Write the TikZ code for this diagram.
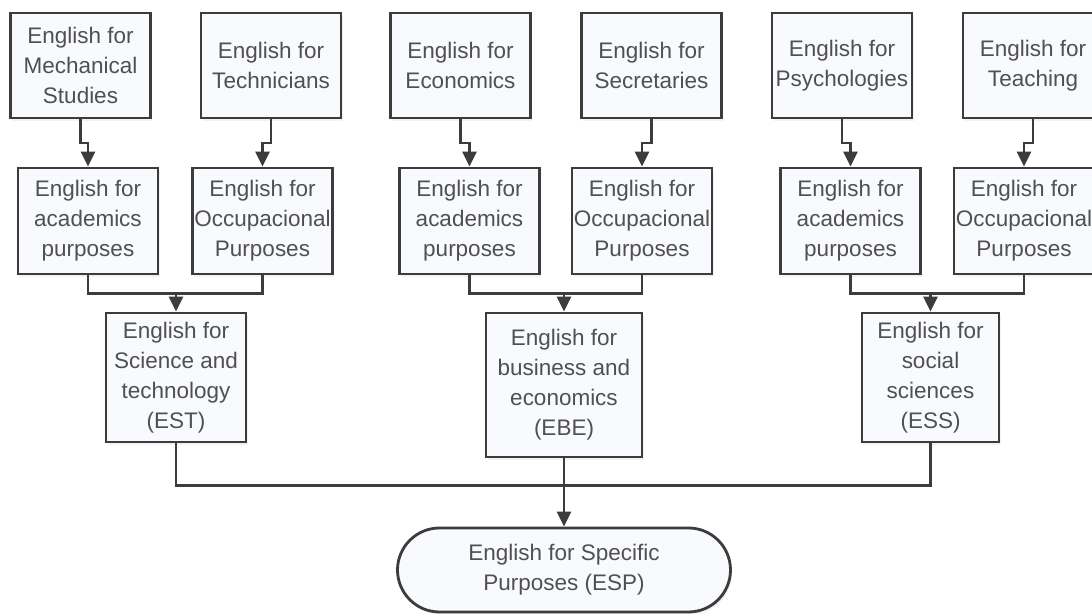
\documentclass[tikz,border=0pt]{standalone}
\usepackage{fontspec}
\setmainfont{Liberation Sans}
\usepackage{tikz}
\usetikzlibrary{calc}
\usetikzlibrary{arrows.meta}
\usetikzlibrary{shadows}

\definecolor{boxline}{HTML}{3C3C3C}
\definecolor{boxfill}{HTML}{F8FAFD}
\definecolor{boxtext}{HTML}{505050}

\tikzset{
    field/.style={draw=boxline, line width=1.6pt, fill=boxfill, text=boxtext, align=center,
        inner sep=0pt, minimum width=2.8cm, minimum height=2.1cm,
        font=\fontsize{12.8}{17}\selectfont,
        drop shadow={opacity=0.10, shadow xshift=0.03cm, shadow yshift=-0.06cm}},
    wire/.style={draw=boxline, line width=1.6pt},
    feed/.style={wire, -{Triangle[width=0.28cm, length=0.3cm]}},
}

\begin{document}
\begin{tikzpicture}
    \useasboundingbox (0,0) rectangle (21.84,12.28);
    \clip (0,0) rectangle (21.84,12.28);

    % fields of study
    \node[field] (t1) at (1.61,10.97) {English for\\Mechanical\\Studies};
    \node[field] (t2) at (5.42,10.97) {English for\\Technicians};
    \node[field] (t3) at (9.21,10.97) {English for\\Economics};
    \node[field] (t4) at (13.03,10.97) {English for\\Secretaries};
    \node[field] (t5) at (16.84,10.97) {English for\\Psychologies};
    \node[field] (t6) at (20.66,10.97) {English for\\Teaching};

    % purposes
    \node[field, minimum height=2.12cm] (a1) at (1.76,7.86) {English for\\academics\\purposes};
    \node[field, minimum height=2.12cm] (o1) at (5.25,7.86) {English for\\Occupacional\\Purposes};
    \node[field, minimum height=2.12cm] (a2) at (9.39,7.86) {English for\\academics\\purposes};
    \node[field, minimum height=2.12cm] (o2) at (12.84,7.86) {English for\\Occupacional\\Purposes};
    \node[field, minimum height=2.12cm] (a3) at (17.01,7.86) {English for\\academics\\purposes};
    \node[field, minimum height=2.12cm] (o3) at (20.48,7.86) {English for\\Occupacional\\Purposes};

    % branches
    \node[field, minimum height=2.58cm] (est) at (3.52,4.73) {English for\\Science and\\technology\\(EST)};
    \node[field, minimum width=3.12cm, minimum height=2.88cm] (ebe) at (11.28,4.58) {English for\\business and\\economics\\(EBE)};
    \node[field, minimum width=2.74cm, minimum height=2.58cm] (ess) at (18.61,4.73) {English for\\social\\sciences\\(ESS)};

    \node[field, rounded corners=0.84cm, minimum width=6.66cm, minimum height=1.68cm] (esp) at (11.28,0.88) {English for Specific\\Purposes (ESP)};

    \coordinate (j1) at ($(a1.south)!0.5!(est.north)$);
    \coordinate (j2) at ($(a2.south)!0.5!(ebe.north)$);
    \coordinate (j3) at ($(a3.south)!0.5!(ess.north)$);
    \coordinate (bus) at ($(ebe.south)!0.4!(esp.north)$);

    \draw[feed] (t1.south) |- ($(t1.south)!0.5!(a1.north)$) -| (a1.north);
    \draw[feed] (t2.south) |- ($(t2.south)!0.5!(o1.north)$) -| (o1.north);
    \draw[feed] (t3.south) |- ($(t3.south)!0.5!(a2.north)$) -| (a2.north);
    \draw[feed] (t4.south) |- ($(t4.south)!0.5!(o2.north)$) -| (o2.north);
    \draw[feed] (t5.south) |- ($(t5.south)!0.5!(a3.north)$) -| (a3.north);
    \draw[feed] (t6.south) |- ($(t6.south)!0.5!(o3.north)$) -| (o3.north);

    \draw[wire] (a1.south) |- (j1) -| (o1.south);
    \draw[wire] (a2.south) |- (j2) -| (o2.south);
    \draw[wire] (a3.south) |- (j3) -| (o3.south);
    \draw[feed] (j1 -| est.north) -- (est.north);
    \draw[feed] (j2 -| ebe.north) -- (ebe.north);
    \draw[feed] (j3 -| ess.north) -- (ess.north);

    \draw[wire] (est.south) |- (bus) -| (ess.south);
    \draw[feed] (ebe.south) -- (esp.north);
\end{tikzpicture}
\end{document}
